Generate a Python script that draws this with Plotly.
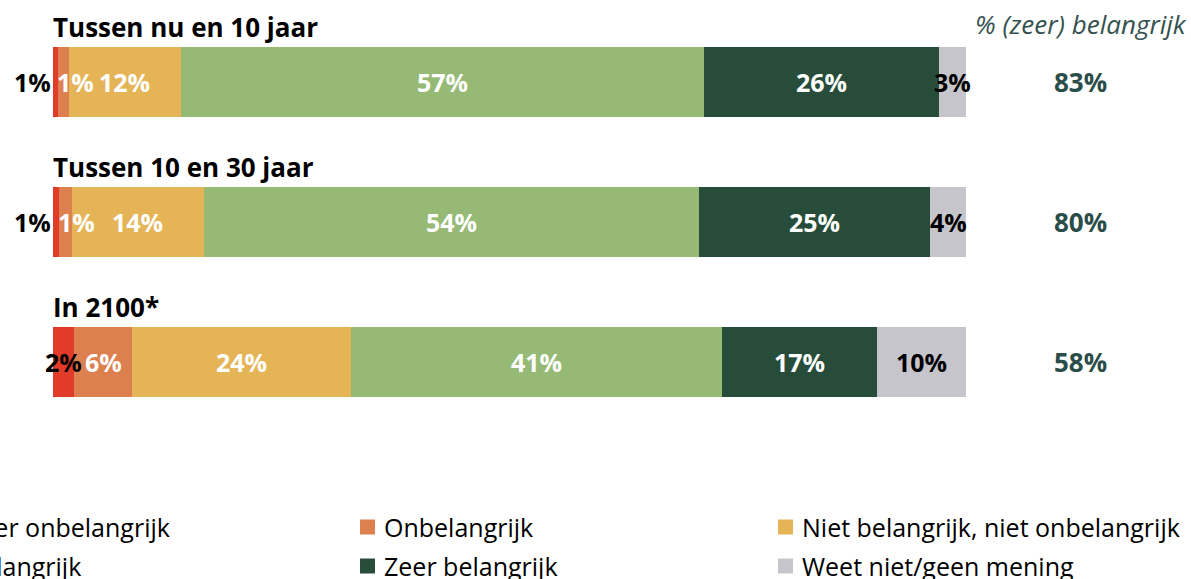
import plotly.graph_objects as go

# ---- data ----
periods = ["Tussen nu en 10 jaar", "Tussen 10 en 30 jaar", "In 2100*"]
categories = ["Zeer onbelangrijk", "Onbelangrijk", "Niet belangrijk, niet onbelangrijk",
              "Belangrijk", "Zeer belangrijk", "Weet niet/geen mening"]
zeer_onbelangrijk = [0.6, 0.7, 2.3]
onbelangrijk = [1.1, 1.4, 6.4]
neutraal = [12.3, 14.4, 23.9]
belangrijk = [57.3, 54.3, 40.7]
zeer_belangrijk = [25.7, 25.3, 16.9]
weet_niet = [3.0, 3.9, 9.8]
pct_belangrijk = [83, 80, 58]
right_header = "% (zeer) belangrijk"

series = [zeer_onbelangrijk, onbelangrijk, neutraal, belangrijk, zeer_belangrijk, weet_niet]
colors = ["#E13B29", "#DD8050", "#E4B456", "#96BA76", "#274D3A", "#C6C5CB"]
label_colors = ["#000000", "#FFFFFF", "#FFFFFF", "#FFFFFF", "#FFFFFF", "#000000"]

FONT = "Open Sans"
W, H = 1191, 579
ML, MR, MT, MB = 53, 225, 12, 147
PW, PH = W - ML - MR, H - MT - MB


def px2paper_x(px):
    return (px - ML) / PW


def px2paper_y(py):
    return (H - MB - py) / PH


fig = go.Figure()
ypos = list(range(len(periods)))
for cat, vals, col in zip(categories, series, colors):
    fig.add_trace(go.Bar(
        y=ypos, x=vals, name=cat, orientation="h",
        marker=dict(color=col, line=dict(width=0)),
        width=0.507, showlegend=False, hoverinfo="x+name",
    ))

annotations = []
# segment labels
for i in ypos:
    start = 0.0
    for k, (vals, lc) in enumerate(zip(series, label_colors)):
        v = vals[i]
        txt = f"{round(v)}%"
        xs = 0
        if v < 1.5 and k == 0:
            x, xa = start, "right"
        elif v < 1.5:
            x, xa, xs = start, "left", -3
        else:
            x, xa = start + v / 2, "center"
        annotations.append(dict(
            x=x, y=i, xref="x", yref="y", text=txt, showarrow=False,
            xanchor=xa, yanchor="middle", xshift=xs,
            font=dict(family=FONT, size=25, color=lc, weight=700),
        ))
        start += v
    # period title
    annotations.append(dict(
        x=0, y=i - 0.39, xref="x", yref="y", text=periods[i], showarrow=False,
        xanchor="left", yanchor="middle", xshift=-2,
        font=dict(family=FONT, size=26, color="#000000", weight=700),
    ))
    # right column value
    annotations.append(dict(
        x=px2paper_x(1080), y=i, xref="paper", yref="y", text=f"{pct_belangrijk[i]}%",
        showarrow=False, xanchor="center", yanchor="middle",
        font=dict(family=FONT, size=26, color="#2B4D4A", weight=700),
    ))

annotations.append(dict(
    x=px2paper_x(1081), y=-0.415, xref="paper", yref="y", text=right_header,
    showarrow=False, xanchor="center", yanchor="middle",
    font=dict(family=FONT, size=26, color="#35514F", style="italic"),
))

# manual legend (3 columns, clipped on the left as in the reference)
shapes = []
col0_px, col_step, sw = -58, 418, 15
row_py = [527, 566]
for idx, (cat, col) in enumerate(zip(categories, colors)):
    c, r = idx % 3, idx // 3
    sx = col0_px + c * col_step
    cy = row_py[r]
    shapes.append(dict(
        type="rect", xref="paper", yref="paper",
        x0=px2paper_x(sx), x1=px2paper_x(sx + sw),
        y0=px2paper_y(cy + sw / 2), y1=px2paper_y(cy - sw / 2),
        fillcolor=col, line=dict(width=0),
    ))
    annotations.append(dict(
        x=px2paper_x(sx + sw + 7), y=px2paper_y(cy), xref="paper", yref="paper",
        text=cat, showarrow=False, xanchor="left", yanchor="middle",
        font=dict(family=FONT, size=25, color="#000000"),
    ))

fig.update_layout(
    width=W, height=H,
    margin=dict(l=ML, r=MR, t=MT, b=MB, autoexpand=False),
    barmode="stack",
    plot_bgcolor="white", paper_bgcolor="white",
    xaxis=dict(range=[0, 100], visible=False, fixedrange=True),
    yaxis=dict(range=[2.5, -0.5], visible=False, fixedrange=True),
    annotations=annotations, shapes=shapes,
    showlegend=False,
)

fig.write_html("out.html",
               config={"displayModeBar": False},
               post_script="document.body.style.margin='0';document.body.style.overflow='hidden';")
